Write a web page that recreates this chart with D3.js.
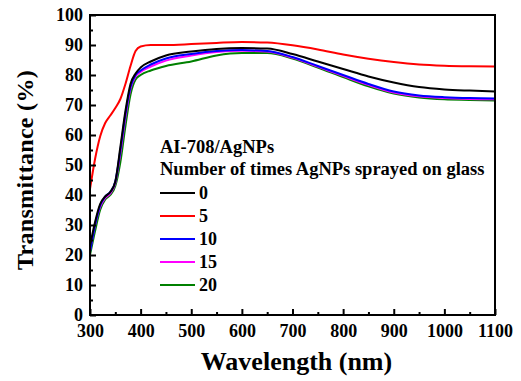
<!DOCTYPE html>
<html><head><meta charset="utf-8">
<script src="https://cdn.jsdelivr.net/npm/d3@7"></script>
<style>body{margin:0;background:#fff}svg{display:block}</style>
</head><body><div id="c"></div>
<script>
const wavelengths=[300,310,320,330,340,350,360,370,380,390,400,420,450,500,550,600,650,700,750,800,850,900,950,1000,1050,1100];
const s0=[23,31,37,39.5,41,44.5,56,68,77,80.5,82.5,84.5,86.5,87.8,88.7,89,88.8,87,84.5,82,79.5,77.5,76,75.2,74.8,74.5];
const s5=[42,52,59.5,64,66.5,69,72,77,83,88,89.5,90,90,90.3,90.7,91,90.8,89.9,88.5,86.8,85.4,84.3,83.5,83.1,82.9,82.8];
const s10=[21,30,36.5,39.5,41,44.5,55,67,76,80,81.5,83.5,85.5,87,88,88.3,88,86,83,80,77,74.5,73.2,72.6,72.3,72.2];
const s15=[21.5,30,36,39,40.5,44,54,66,75.5,79.5,81,82.8,84.8,86.5,87.7,88.1,87.8,85.8,82.8,79.7,76.7,74.2,72.9,72.3,72,71.9];
const s20=[20,28,35,38.5,40,43,51,63,73.5,78.5,80,81.5,83,84.5,86.5,87.3,87.3,85.5,82.5,79.3,76.2,73.8,72.5,71.9,71.7,71.5];
const seriesNames=["0","5","10","15","20"];
const seriesColors=["#000000","#ff0000","#0000ff","#ff00ff","#008000"];
const seriesValues=[s0,s5,s10,s15,s20];
const xTicks=[300,400,500,600,700,800,900,1000,1100];
const yTicks=[0,10,20,30,40,50,60,70,80,90,100];
const legendTitle1="AI-708/AgNPs";
const legendTitle2="Number of times AgNPs sprayed on glass";

const FONT="Liberation Serif";
const W=521,H=381,m={l:90,t:15,r:26,b:66};
const svg=d3.select("#c").append("svg").attr("width",W).attr("height",H);
const x=d3.scaleLinear().domain([300,1100]).range([m.l,W-m.r]);
const y=d3.scaleLinear().domain([0,100]).range([H-m.b,m.t]);
const g=svg.append("g");

const line=d3.line().x(d=>x(d[0])).y(d=>y(d[1])).curve(d3.curveMonotoneX);
[4,3,2,1,0].forEach(i=>{
  g.append("path").datum(wavelengths.map((w,j)=>[w,seriesValues[i][j]]))
   .attr("d",line).attr("fill","none").attr("stroke",seriesColors[i]).attr("stroke-width",2);
});

const xAx=d3.axisBottom(x).tickValues(xTicks).tickSize(-6).tickPadding(9).tickFormat(d3.format("d"));
const xMinor=d3.axisBottom(x).tickValues(d3.range(350,1100,100)).tickSize(-3).tickFormat("");
const yAx=d3.axisLeft(y).tickValues(yTicks).tickSize(-6).tickPadding(7);
const yMinor=d3.axisLeft(y).tickValues(d3.range(5,100,10)).tickSize(-3).tickFormat("");
[[xAx,`translate(0,${H-m.b})`],[xMinor,`translate(0,${H-m.b})`],[yAx,`translate(${m.l},0)`],[yMinor,`translate(${m.l},0)`]].forEach(([a,t])=>{
  const s=svg.append("g").attr("transform",t).call(a);
  s.select(".domain").remove();
  s.selectAll("line").attr("stroke","#000").attr("stroke-width",2);
  s.selectAll("text").attr("fill","#000").attr("font-size",18);
});
svg.append("rect").attr("x",m.l).attr("y",m.t).attr("width",W-m.r-m.l).attr("height",H-m.b-m.t)
  .attr("fill","none").attr("stroke","#000").attr("stroke-width",2);

svg.append("text").attr("x",(m.l+W-m.r)/2+4).attr("y",370).attr("text-anchor","middle").attr("font-size",26).text("Wavelength (nm)");
svg.append("text").attr("transform",`translate(33,170) rotate(-90)`).attr("text-anchor","middle").attr("font-size",24).attr("letter-spacing",0.3).text("Transmittance (%)");

svg.append("text").attr("x",160).attr("y",153).attr("font-size",18.5).text(legendTitle1);
svg.append("text").attr("x",160).attr("y",175).attr("font-size",18.5).text(legendTitle2);
seriesNames.forEach((n,i)=>{
  const yy=193+i*23;
  svg.append("line").attr("x1",160).attr("x2",195).attr("y1",yy).attr("y2",yy).attr("stroke",seriesColors[i]).attr("stroke-width",2);
  svg.append("text").attr("x",199).attr("y",yy+5.5).attr("font-size",18).text(n);
});
svg.selectAll("text").attr("font-family",FONT).attr("font-weight","bold")
  .style("font-family",FONT).style("font-weight","bold");
</script></body></html>
